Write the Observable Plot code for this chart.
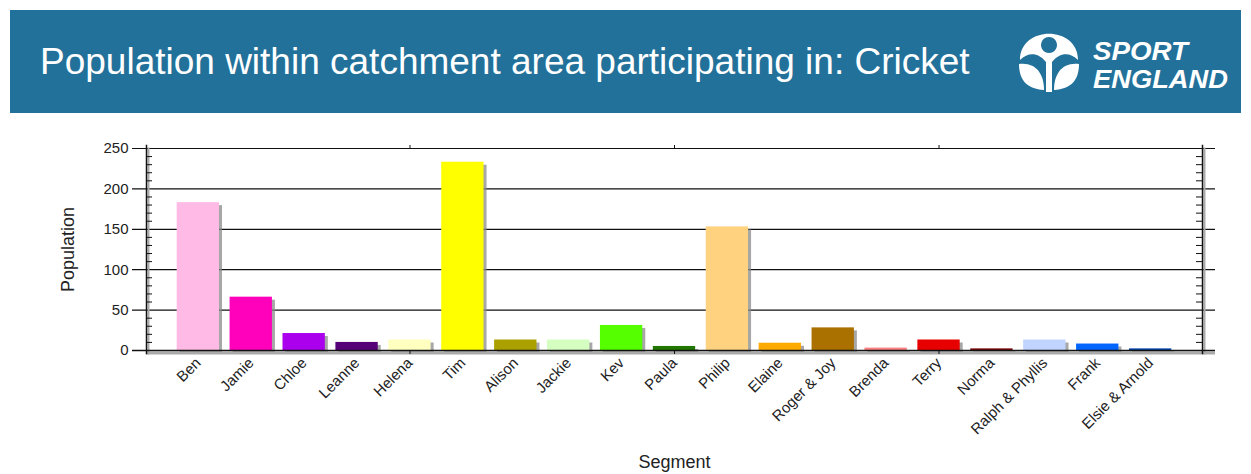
<!DOCTYPE html>
<html><head><meta charset="utf-8">
<script src="https://cdn.jsdelivr.net/npm/d3@7"></script>
<script src="https://cdn.jsdelivr.net/npm/@observablehq/plot@0.6"></script>
<style>
html,body{margin:0;padding:0;background:#fff;}
body{width:1251px;height:474px;position:relative;overflow:hidden;font-family:"Liberation Sans",Arial,sans-serif;}
#header{position:absolute;left:10px;top:10px;width:1231px;height:103px;background:#22719a;}
#title{position:absolute;left:40px;top:41px;color:#fff;font-size:37px;line-height:42px;white-space:nowrap;}
#logo{position:absolute;left:0;top:0;}
#chart{position:absolute;left:0;top:113px;}
</style></head>
<body>
<div id="header"></div>
<div id="title">Population within catchment area participating in: Cricket</div>
<svg id="logo" width="1251" height="113">
  <path fill="#fff" fill-rule="evenodd" d="M1020,60 C1020,25 1078,25 1078,60 C1070,52 1060,52 1052,62 L1052,92 L1046,92 L1046,62 C1038,52 1028,52 1020,60 Z M1049,37 a8,8 0 1,0 0.01,0 Z"/>
  <path fill="#fff" d="M1019,64 C1036,62 1044,74 1044,90 C1027,89 1019,80 1019,64 Z"/>
  <path fill="#fff" d="M1079,64 C1062,62 1054,74 1054,90 C1071,89 1079,80 1079,64 Z"/>
  <text x="1093" y="60" fill="#fff" font-family="Liberation Sans, Arial, sans-serif" font-weight="bold" font-style="italic" font-size="25" textLength="95" lengthAdjust="spacingAndGlyphs">SPORT</text>
  <text x="1093" y="88" fill="#fff" font-family="Liberation Sans, Arial, sans-serif" font-weight="bold" font-style="italic" font-size="25" textLength="135" lengthAdjust="spacingAndGlyphs">ENGLAND</text>
</svg>
<div id="chart"></div>
<script>
const segments = ["Ben","Jamie","Chloe","Leanne","Helena","Tim","Alison","Jackie","Kev","Paula","Philip","Elaine","Roger & Joy","Brenda","Terry","Norma","Ralph & Phyllis","Frank","Elsie & Arnold"];
const population = [183,66,21,10,13,233,13,13,31,5,153,9,28,3,13,2,13,8,2];
const segmentColors = ["#ffbbe6","#ff00bb","#aa00ee","#550077","#ffffc0","#ffff00","#aaa000","#d4ffc0","#55ff00","#227700","#ffd27f","#ffaa00","#aa7000","#ff8080","#e60000","#770000","#c0d4ff","#0066ff","#0044aa"];
const yTicks = [0,50,100,150,200,250];
const minorTicks = d3.range(0,251,10).filter(v => v % 50 !== 0);
const markedSegments = ["Helena","Paula","Terry"];

const data = segments.map((s,i) => ({segment:s, value:population[i], color:segmentColors[i]}));

const W = 1251, H = 361, mL = 146, mR = 49, mT = 35, mB = 124;
const fw = W - mL - mR;

const chart = Plot.plot({
  width: W, height: H,
  marginLeft: mL, marginRight: mR, marginTop: mT, marginBottom: mB,
  style: {fontFamily: '"Liberation Sans", Arial, sans-serif', fontSize: "15px", color: "#222", background: "transparent", overflow: "visible"},
  x: {domain: segments, paddingInner: 0.2, paddingOuter: 0.58, round: false, axis: null, label: null},
  y: {domain: [0,250], axis: null, label: null},
  marks: [
    Plot.ruleY(yTicks, {y: d => d, stroke: "#111", strokeWidth: 1.2, insetLeft: -14, insetRight: -13}),
    Plot.barY(data, {x: "segment", y: "value", fill: "#8a8a8a", fillOpacity: 0.75, dx: 3, dy: 3}),
    Plot.barY(data, {x: "segment", y: "value", fill: "color"}),
    Plot.ruleY([0], {y: d => d, stroke: "#aaa", strokeWidth: 3, dy: 2.5, insetRight: -13}),
    Plot.frame({anchor: "left", stroke: "#aaa", strokeWidth: 2, dx: 2, insetBottom: -3}),
    Plot.frame({anchor: "right", stroke: "#aaa", strokeWidth: 2, dx: 2, insetBottom: -3}),
    Plot.ruleY([0], {y: d => d, stroke: "#111", strokeWidth: 1.5, insetLeft: -14, insetRight: -13}),
    Plot.frame({anchor: "left", stroke: "#111", strokeWidth: 1.5, insetTop: -3, insetBottom: -3}),
    Plot.frame({anchor: "right", stroke: "#111", strokeWidth: 1.5, insetTop: -3, insetBottom: -3}),
    Plot.tickY(minorTicks, {y: d => d, stroke: "#111", insetRight: fw - 6}),
    Plot.tickY(minorTicks, {y: d => d, stroke: "#111", insetLeft: fw - 6}),
    Plot.axisY({ticks: yTicks, tickSize: 0, tickPadding: 18, fontSize: 15, label: null}),
    Plot.axisX({anchor: "bottom", tickSize: 0, tickRotate: -45, tickPadding: 10, fontSize: 15, label: null}),
    Plot.axisX({anchor: "bottom", ticks: markedSegments, tickSize: 4, tickFormat: () => "", label: null, stroke: "#111"}),
    Plot.axisX({anchor: "top", ticks: markedSegments, tickSize: 4, tickFormat: () => "", label: null, stroke: "#111"}),
    Plot.text(["Population"], {frameAnchor: "left", text: d => d, dx: -78, rotate: -90, textAnchor: "middle", lineAnchor: "middle", fontSize: 18, fill: "#222"}),
    Plot.text(["Segment"], {frameAnchor: "bottom", text: d => d, dy: 112, textAnchor: "middle", lineAnchor: "middle", fontSize: 18, fill: "#222"})
  ]
});
document.getElementById("chart").appendChild(chart);
</script>
</body></html>
